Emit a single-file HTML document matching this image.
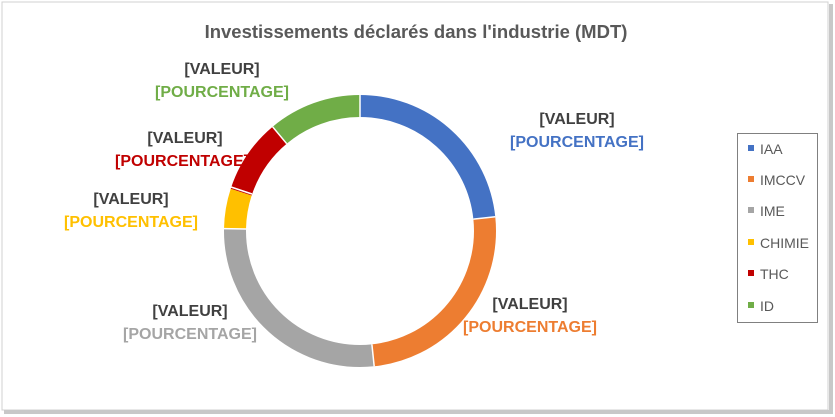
<!DOCTYPE html><html><head><style>body{margin:0;background:#fff}svg{display:block}text{font-family:"Liberation Sans",sans-serif;font-weight:bold;font-size:16px}</style></head><body>
<svg width="835" height="417" xmlns="http://www.w3.org/2000/svg">
<rect x="0" y="0" width="835" height="417" fill="#fff"/>
<rect x="2" y="2" width="826" height="408" fill="#fff" stroke="#d0d0d0"/>
<rect x="829" y="4" width="4" height="410" fill="#c8c8c8"/>
<rect x="4" y="410" width="829" height="4" fill="#c8c8c8"/>
<text x="416" y="38" text-anchor="middle" fill="#595959" style="font-size:18.5px">Investissements déclarés dans l'industrie (MDT)</text>
<g transform="rotate(-90 360 231)" fill="none" stroke-width="22">
<circle cx="360" cy="231" r="125" stroke="#4472c4" stroke-dasharray="183.3 1000" stroke-dashoffset="0"/>
<circle cx="360" cy="231" r="125" stroke="#ed7d31" stroke-dasharray="0 183.3 196.35 1000"/>
<circle cx="360" cy="231" r="125" stroke="#a5a5a5" stroke-dasharray="0 379.65 211.6 1000"/>
<circle cx="360" cy="231" r="125" stroke="#ffc000" stroke-dasharray="0 591.25 37.1 1000"/>
<circle cx="360" cy="231" r="125" stroke="#c00000" stroke-dasharray="0 628.35 69.8 1000"/>
<circle cx="360" cy="231" r="125" stroke="#70ad47" stroke-dasharray="0 698.15 87.3 1000"/>
</g>
<g stroke="#fff" stroke-width="1.5">
<line x1="360" y1="95" x2="360" y2="117"/>
<line x1="495.3" y1="216.8" x2="473.4" y2="219.1"/>
<line x1="374.2" y1="366.3" x2="371.9" y2="344.4"/>
<line x1="224" y1="228.6" x2="246" y2="229"/>
<line x1="231" y1="187" x2="252" y2="194"/>
<line x1="272.6" y1="126.8" x2="286.7" y2="143.7"/>
</g>
<g fill="#404040" text-anchor="middle">
<text x="577" y="124">[VALEUR]</text>
<text x="530" y="309">[VALEUR]</text>
<text x="190" y="316">[VALEUR]</text>
<text x="131" y="204">[VALEUR]</text>
<text x="185" y="143">[VALEUR]</text>
<text x="222" y="74">[VALEUR]</text>
</g>
<g text-anchor="middle">
<text x="577" y="147" fill="#4472c4">[POURCENTAGE]</text>
<text x="530" y="332" fill="#ed7d31">[POURCENTAGE]</text>
<text x="190" y="339" fill="#a5a5a5">[POURCENTAGE]</text>
<text x="131" y="227" fill="#ffc000">[POURCENTAGE]</text>
<text x="182" y="166" fill="#c00000">[POURCENTAGE]</text>
<text x="222" y="97" fill="#70ad47">[POURCENTAGE]</text>
</g>
<rect x="737.5" y="133.5" width="80" height="189" fill="#fff" stroke="#808080"/>
<g fill="#595959">
<rect x="748" y="145" width="6" height="6" fill="#4472c4"/><text x="760" y="154" style="font-weight:normal;font-size:14px">IAA</text>
<rect x="748" y="176" width="6" height="6" fill="#ed7d31"/><text x="760" y="185" style="font-weight:normal;font-size:14px">IMCCV</text>
<rect x="748" y="207" width="6" height="6" fill="#a5a5a5"/><text x="760" y="216" style="font-weight:normal;font-size:14px">IME</text>
<rect x="748" y="239" width="6" height="6" fill="#ffc000"/><text x="760" y="248" style="font-weight:normal;font-size:14px">CHIMIE</text>
<rect x="748" y="270" width="6" height="6" fill="#c00000"/><text x="760" y="279" style="font-weight:normal;font-size:14px">THC</text>
<rect x="748" y="302" width="6" height="6" fill="#70ad47"/><text x="760" y="311" style="font-weight:normal;font-size:14px">ID</text>
</g>
</svg></body></html>
